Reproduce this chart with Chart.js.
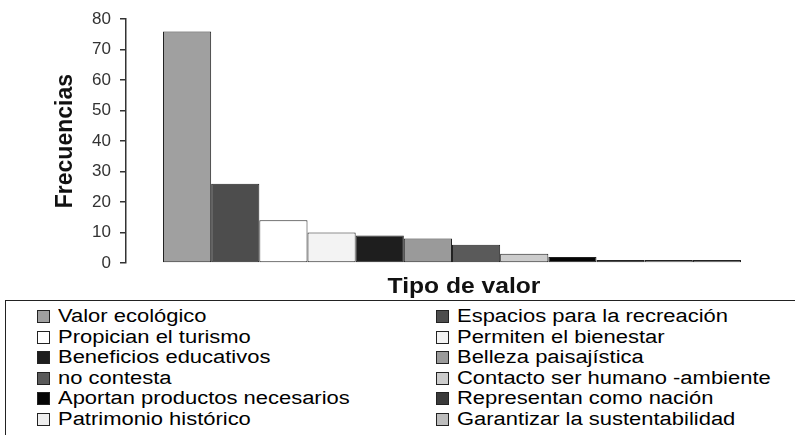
<!DOCTYPE html>
<html>
<head>
<meta charset="utf-8">
<script src="https://cdn.jsdelivr.net/npm/chart.js@4.4.1/dist/chart.umd.min.js"></script>
<style>
  html, body { margin: 0; padding: 0; background: #fff; width: 795px; height: 435px; overflow: hidden; }
  #wrap { position: absolute; left: 0; top: 0; width: 795px; height: 300px; }
  #legend { position: absolute; left: 5px; top: 300px; width: 800px; height: 150px;
            border: 1px solid #222; box-sizing: border-box; font-family: "Liberation Sans", Arial, sans-serif;
            font-size: 18px; color: #000; }
  .item { position: absolute; height: 20px; line-height: 20px; white-space: nowrap; }
  .sw { position: absolute; top: 4px; left: 0; width: 11px; height: 11px; border: 1px solid #222; }
  .tx { position: absolute; left: 21px; top: 0; display: inline-block; transform: scaleX(1.22); transform-origin: left center; }
</style>
</head>
<body>
<div id="wrap"><canvas id="c"></canvas></div>
<div id="legend"></div>
<script>
// ---- data ----
const categories = [
  "Valor ecológico", "Espacios para la recreación",
  "Propician el turismo", "Permiten el bienestar",
  "Beneficios educativos", "Belleza paisajística",
  "no contesta", "Contacto ser humano -ambiente",
  "Aportan productos necesarios", "Representan como nación",
  "Patrimonio histórico", "Garantizar la sustentabilidad"
];
const values = [76, 26, 14, 10, 9, 8, 6, 3, 2, 1, 1, 1];
const yTicks = [0, 10, 20, 30, 40, 50, 60, 70, 80];
const xTitle = "Tipo de valor";
const yTitle = "Frecuencias";

// ---- styles ----
const colors = ["#a0a0a0", "#4d4d4d", "#ffffff", "#f3f3f3", "#1e1e1e", "#9a9a9a",
                "#5a5a5a", "#cccccc", "#050505", "#3a3a3a", "#eeeeee", "#bdbdbd"];

const datasets = categories.map((name, i) => ({
  label: name,
  data: [values[i]],
  backgroundColor: colors[i],
  borderColor: "#222",
  borderWidth: 1,
  borderSkipped: false,
  barPercentage: 1,
  categoryPercentage: 0.8865
}));

const xTitlePlugin = {
  id: "xTitlePlugin",
  afterDraw(chart) {
    const ctx = chart.ctx;
    ctx.save();
    ctx.font = "bold 22px 'Liberation Sans', Arial, sans-serif";
    ctx.fillStyle = "#111";
    ctx.textAlign = "center";
    ctx.textBaseline = "alphabetic";
    ctx.translate(464, 293);
    ctx.scale(1.12, 1);
    ctx.fillText(xTitle, 0, 0);
    ctx.restore();
  }
};

new Chart(document.getElementById("c"), {
  type: "bar",
  data: { labels: [xTitle], datasets },
  options: {
    responsive: true,
    maintainAspectRatio: false,
    animation: false,
    layout: { padding: { left: 44, right: 17, top: 17, bottom: 37 } },
    plugins: { legend: { display: false }, tooltip: { enabled: false } },
    scales: {
      x: { display: false },
      y: {
        min: 0, max: 80,
        afterBuildTicks(scale) { scale.ticks = yTicks.map(v => ({ value: v })); },
        afterFit(scale) { scale.width = 126 - 44; },
        ticks: { color: "#333", padding: 9, font: { family: "'Liberation Sans', Arial, sans-serif", size: 17 } },
        grid: { drawOnChartArea: false, drawTicks: true, tickLength: 6, color: "#333", lineWidth: 1.5 },
        border: { display: true, color: "#333", width: 1.5 },
        title: { display: true, text: yTitle, color: "#111", padding: { top: 8, bottom: 0 },
                 font: { family: "'Liberation Sans', Arial, sans-serif", size: 23, weight: "bold" } }
      }
    }
  },
  plugins: [xTitlePlugin]
});

// ---- HTML legend (two columns, row-wise order) ----
const legend = document.getElementById("legend");
categories.forEach((name, i) => {
  const col = i % 2, row = Math.floor(i / 2);
  const d = document.createElement("div");
  d.className = "item";
  d.style.left = (col === 0 ? 31 : 430) + "px";
  d.style.top = (5 + row * 20.5) + "px";
  d.innerHTML = '<span class="sw" style="background:' + colors[i] + '"></span><span class="tx"></span>';
  d.querySelector(".tx").textContent = name;
  legend.appendChild(d);
});
</script>
</body>
</html>
